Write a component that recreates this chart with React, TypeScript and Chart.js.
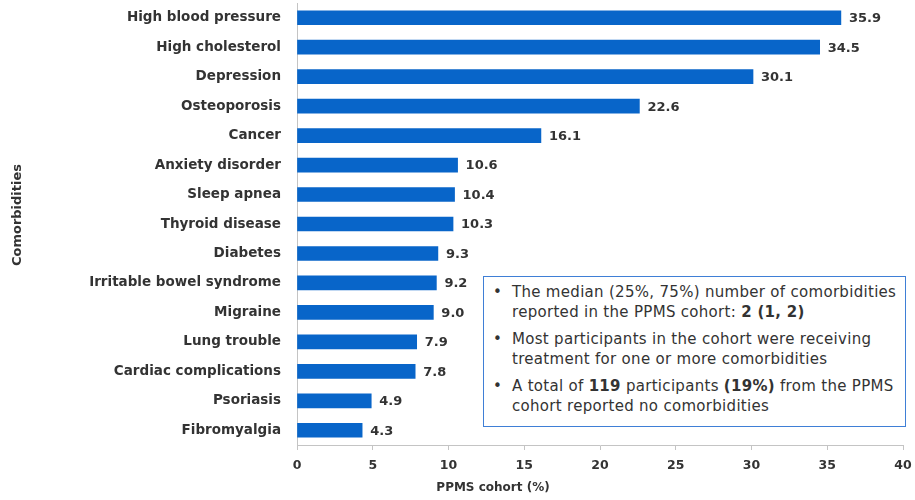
import { useEffect, useRef } from "react";
import { Chart, registerables } from "chart.js";

Chart.register(...registerables);

const categories = [
  "High blood pressure",
  "High cholesterol",
  "Depression",
  "Osteoporosis",
  "Cancer",
  "Anxiety disorder",
  "Sleep apnea",
  "Thyroid disease",
  "Diabetes",
  "Irritable bowel syndrome",
  "Migraine",
  "Lung trouble",
  "Cardiac complications",
  "Psoriasis",
  "Fibromyalgia",
];
const values = [35.9, 34.5, 30.1, 22.6, 16.1, 10.6, 10.4, 10.3, 9.3, 9.2, 9.0, 7.9, 7.8, 4.9, 4.3];
const xMin = 0;
const xMax = 40;
const xStep = 5;
const xTitle = "PPMS cohort (%)";
const yTitle = "Comorbidities";

const FONT = "'DejaVu Sans', sans-serif";
const TEXT = "#333333";
const AXIS = "#c4c4c4";
const BAR = "#0865c9";

export default function App() {
  const ref = useRef<HTMLCanvasElement>(null);

  useEffect(() => {
    if (!ref.current) return;
    const labelPlugin = {
      id: "valueLabels",
      afterDatasetsDraw(chart: any) {
        const ctx = chart.ctx;
        const meta = chart.getDatasetMeta(0);
        ctx.save();
        ctx.font = `bold 13px ${FONT}`;
        ctx.fillStyle = TEXT;
        ctx.textAlign = "left";
        ctx.textBaseline = "middle";
        meta.data.forEach((bar: any, i: number) => {
          ctx.fillText(values[i].toFixed(1), bar.x + 8, bar.y + 1);
        });
        // axis titles
        ctx.font = `bold 12px ${FONT}`;
        ctx.textAlign = "center";
        ctx.fillText(xTitle, 493, 488);
        ctx.font = `bold 13px ${FONT}`;
        ctx.translate(18, 215);
        ctx.rotate(-Math.PI / 2);
        ctx.fillText(yTitle, 0, 0);
        ctx.restore();
      },
    };

    const chart = new Chart(ref.current, {
      type: "bar",
      data: {
        labels: categories,
        datasets: [
          {
            data: values,
            backgroundColor: BAR,
            borderWidth: 0,
            barThickness: 14,
          },
        ],
      },
      options: {
        indexAxis: "y",
        responsive: false,
        animation: false,
        layout: { padding: { top: 3, right: 12, left: 0, bottom: 0 } },
        plugins: {
          legend: { display: false },
          tooltip: { enabled: false },
        },
        scales: {
          x: {
            min: xMin,
            max: xMax,
            ticks: {
              stepSize: xStep,
              color: TEXT,
              font: { family: FONT, size: 12.5, weight: "bold" },
              padding: 8,
            },
            grid: {
              display: true,
              drawOnChartArea: false,
              drawTicks: true,
              tickLength: 5,
              color: AXIS,
            },
            border: { display: true, color: AXIS },
            afterFit: (s: any) => {
              s.height = 55;
              s.paddingLeft = 0;
              s.paddingRight = 0;
            },
          },
          y: {
            ticks: {
              color: TEXT,
              font: { family: FONT, size: 13.5, weight: "bold" },
              padding: 16,
            },
            grid: { display: false, drawTicks: false },
            border: { display: true, color: AXIS },
            afterFit: (s: any) => {
              s.width = 297;
              s.paddingTop = 0;
              s.paddingBottom = 0;
            },
          },
        },
      },
      plugins: [labelPlugin],
    });
    return () => chart.destroy();
  }, []);

  const para: React.CSSProperties = { position: "relative", paddingLeft: 28, marginTop: 8 };
  const bullet: React.CSSProperties = { position: "absolute", left: 9, top: 0 };

  return (
    <div style={{ position: "fixed", left: 0, top: 0, width: 915, height: 500, background: "#fff" }}>
      <canvas ref={ref} width={915} height={500} />
      <div
        style={{
          position: "absolute",
          left: 483,
          top: 276,
          width: 423,
          height: 151,
          boxSizing: "border-box",
          border: "1px solid #3f7fd6",
          background: "#fff",
          fontFamily: FONT,
          fontSize: 15,
          letterSpacing: "0.3px",
          lineHeight: "19.5px",
          color: TEXT,
          paddingTop: 0,
          whiteSpace: "nowrap",
        }}
      >
        <div style={{ ...para, marginTop: 6 }}>
          <span style={bullet}>•</span>
          The median (25%, 75%) number of comorbidities
          <br />
          reported in the PPMS cohort: <b>2 (1, 2)</b>
        </div>
        <div style={para}>
          <span style={bullet}>•</span>
          Most participants in the cohort were receiving
          <br />
          treatment for one or more comorbidities
        </div>
        <div style={para}>
          <span style={bullet}>•</span>
          A total of <b>119</b> participants <b>(19%)</b> from the PPMS
          <br />
          cohort reported no comorbidities
        </div>
      </div>
    </div>
  );
}
